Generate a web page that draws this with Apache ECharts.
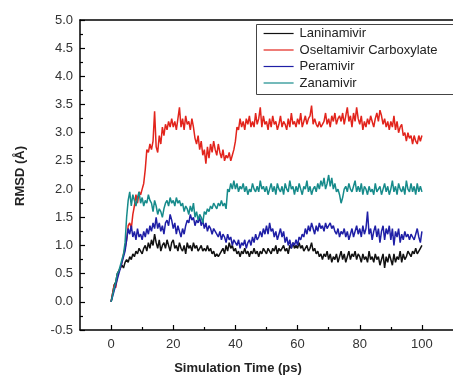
<!DOCTYPE html>
<html>
<head>
<meta charset="utf-8">
<script src="https://cdn.jsdelivr.net/npm/echarts@6/dist/echarts.min.js"></script>
<style>
  html, body { margin: 0; padding: 0; background: #fff; }
  #chart { width: 453px; height: 376px; }
</style>
</head>
<body>
<div id="chart"></div>
<script>
const timeStep = 0.5;

const laninamivir = [
  0.0, 0.15, 0.3, 0.35, 0.5, 0.55, 0.6, 0.65, 0.6, 0.7, 0.75, 0.7, 0.8, 0.75, 0.85, 0.8, 0.9, 0.85, 0.95, 0.9,
  0.85, 0.95, 1.0, 0.9, 1.05, 0.95, 1.1, 1.0, 1.2, 1.05, 0.95, 1.1, 0.9, 1.0, 1.05, 0.95, 1.1, 1.0, 0.9, 1.05,
  1.1, 0.95, 1.0, 0.9, 1.05, 0.95, 0.9, 1.0, 0.85, 1.05, 0.95, 1.0, 0.9, 1.05, 0.95, 1.0, 0.9, 0.95, 1.0, 0.9,
  0.95, 0.9, 1.0, 0.9, 0.95, 0.85, 0.9, 0.8, 0.85, 0.8, 0.85, 0.9, 0.95, 0.85, 1.0, 0.9, 1.05, 0.95, 1.0, 0.9,
  0.95, 0.85, 0.9, 0.8, 0.9, 0.85, 0.95, 0.85, 0.9, 0.8, 0.9, 0.85, 0.95, 0.85, 0.9, 0.8, 0.9, 0.85, 0.95, 0.9,
  0.85, 0.95, 0.9, 0.85, 0.95, 0.9, 1.0, 0.85, 0.95, 0.9, 0.95, 1.0, 0.9, 0.95, 0.85, 1.0, 0.95, 1.05, 0.95, 1.0,
  0.95, 1.05, 0.95, 1.0, 0.9, 0.95, 1.0, 0.9, 0.95, 1.05, 0.9, 0.95, 0.85, 0.9, 0.8, 0.85, 0.75, 0.85, 0.8, 0.9,
  0.75, 0.85, 0.7, 0.8, 0.75, 0.85, 0.7, 0.8, 0.9, 0.75, 0.85, 0.7, 0.8, 0.9, 0.75, 0.85, 0.8, 0.9, 0.75, 0.85,
  0.8, 0.7, 0.85, 0.75, 0.8, 0.7, 0.9, 0.75, 0.8, 0.7, 0.85, 0.75, 0.8, 0.65, 0.75, 0.85, 0.6, 0.8, 0.7, 0.85,
  0.75, 0.65, 0.85, 0.7, 0.8, 0.75, 0.9, 0.7, 0.85, 0.75, 0.8, 0.9, 0.85, 0.8, 0.9, 0.85, 0.95, 0.85, 0.9, 0.95,
  1.0
];

const oseltamivir = [
  0.0, 0.15, 0.3, 0.25, 0.45, 0.55, 0.6, 0.7, 0.85, 0.95, 1.1, 1.35, 1.4, 1.3, 1.55, 1.7, 1.9, 1.75, 1.95, 1.9,
  2.0, 2.1, 2.35, 2.7, 2.65, 2.8, 2.7, 2.85, 3.38, 2.75, 2.65, 2.95, 2.8, 3.1, 2.95, 3.15, 3.05, 3.2, 3.1, 3.25,
  3.1, 3.2, 3.05, 3.25, 3.45, 3.1, 3.25, 3.05, 3.3, 3.15, 3.2, 3.05, 3.25, 3.1, 2.9, 2.8, 2.95, 2.7, 2.85, 2.6,
  2.7, 2.45, 2.75, 2.55, 2.8, 2.65, 2.85, 2.7, 2.6, 2.8, 2.65, 2.55, 2.7, 2.5, 2.6, 2.55, 2.65, 2.5, 2.6, 2.7,
  2.85, 3.1, 3.05, 3.25, 3.1, 3.2, 3.05, 3.25, 3.15, 3.3, 3.1, 3.2, 3.1, 3.35, 3.15, 3.25, 3.45, 3.1, 3.3, 3.15,
  3.2, 3.05, 3.25, 3.1, 3.3, 3.15, 3.2, 3.05, 3.15, 3.3, 3.1, 3.2, 3.15, 3.05, 3.25, 3.1, 3.35, 3.15, 3.2, 3.1,
  3.25, 3.15, 3.35, 3.1, 3.2, 3.3, 3.15, 3.25, 3.3, 3.48, 3.15, 3.25, 3.15, 3.1, 3.2, 3.1, 3.15, 3.2, 3.35, 3.15,
  3.25, 3.1, 3.3, 3.2, 3.35, 3.15, 3.25, 3.3, 3.2, 3.35, 3.15, 3.3, 3.45, 3.2, 3.3, 3.1, 3.35, 3.2, 3.45, 3.25,
  3.15, 3.3, 3.05, 3.2, 3.1, 3.25, 3.15, 3.3, 3.2, 3.1, 3.25, 3.35, 3.2, 3.4, 3.3, 3.15, 3.25, 3.1, 3.2, 3.05,
  3.2, 3.1, 3.3, 3.05, 3.2, 3.0, 3.1, 3.15, 2.95, 3.0, 2.85, 3.0, 2.9, 2.95, 2.8, 2.95, 2.85, 2.8, 2.95, 2.85,
  2.95
];

const peramivir = [
  0.0, 0.1, 0.2, 0.3, 0.4, 0.5, 0.6, 0.7, 0.8, 0.9, 1.1, 1.3, 1.2, 1.35, 1.15, 1.25, 1.1, 1.3, 1.15, 1.2,
  1.1, 1.25, 1.15, 1.3, 1.2, 1.35, 1.25, 1.4, 1.3, 1.5, 1.3, 1.4, 1.25, 1.35, 1.2, 1.4, 1.45, 1.35, 1.55, 1.45,
  1.3, 1.4, 1.2, 1.35, 1.25, 1.15, 1.3, 1.2, 1.35, 1.45, 1.4, 1.55, 1.45, 1.5, 1.35, 1.45, 1.4, 1.5, 1.35, 1.45,
  1.3, 1.4, 1.25, 1.35, 1.3, 1.2, 1.3, 1.25, 1.2, 1.15, 1.25, 1.1, 1.2, 1.15, 1.05, 1.2, 1.1, 1.15, 1.0, 1.1,
  1.05, 1.0, 1.1, 0.95, 1.05, 1.0, 1.1, 0.95, 1.05, 1.1, 1.0, 1.15, 1.05, 1.2, 1.1, 1.15, 1.25, 1.15, 1.3, 1.2,
  1.35, 1.2, 1.4, 1.25, 1.3, 1.15, 1.25, 1.1, 1.2, 1.3, 1.15, 1.25, 1.05, 1.15, 1.0, 1.1, 0.95, 1.05, 1.0, 1.1,
  1.0, 1.15, 1.1, 1.2, 1.15, 1.3, 1.2, 1.35, 1.25, 1.4, 1.3, 1.2, 1.35, 1.25, 1.4, 1.3, 1.35, 1.25, 1.4, 1.3,
  1.35, 1.4, 1.3, 1.35, 1.25, 1.2, 1.3, 1.15, 1.25, 1.2, 1.3, 1.15, 1.25, 1.1, 1.2, 1.3, 1.15, 1.25, 1.35, 1.2,
  1.3, 1.15, 1.35, 1.2, 1.3, 1.6, 1.2, 1.3, 1.1, 1.25, 1.35, 1.15, 1.3, 1.05, 1.25, 1.35, 1.1, 1.3, 1.2, 1.35,
  1.1, 1.3, 1.0, 1.25, 1.15, 1.3, 1.05, 1.2, 1.1, 1.25, 1.15, 1.2, 1.1, 1.2, 1.15, 1.1, 1.2, 1.3, 1.15, 1.05,
  1.25
];

const zanamivir = [
  0.0, 0.12, 0.25, 0.35, 0.5, 0.55, 0.65, 0.75, 0.85, 1.05, 1.5, 1.8, 1.95, 1.7, 1.9, 1.8, 1.7, 1.85, 1.95, 1.75,
  1.85, 1.7, 1.8, 1.75, 1.9, 1.8, 1.75, 1.6, 1.8, 1.7, 1.55, 1.65, 1.6, 1.5, 1.65, 1.75, 1.8, 1.7, 1.85, 1.75,
  1.8, 1.7, 1.85, 1.75, 1.8, 1.7, 1.75, 1.6, 1.7, 1.65, 1.55, 1.7, 1.6, 1.75, 1.5, 1.6, 1.45, 1.55, 1.5, 1.4,
  1.6, 1.55, 1.65, 1.6, 1.7, 1.65, 1.75, 1.7, 1.65, 1.75, 1.7, 1.8, 1.7, 1.75, 1.65, 2.0, 1.95, 2.1, 2.0, 2.15,
  2.0, 2.1, 1.95, 2.05, 2.0, 2.1, 1.95, 2.05, 1.9, 2.0, 1.95, 2.1, 2.0, 1.95, 2.05, 1.95, 2.15, 2.0, 2.05, 1.95,
  2.05, 1.9, 2.0, 2.1, 1.95, 2.05, 1.9, 2.1, 2.0, 1.95, 2.05, 1.9, 2.1, 2.0, 1.95, 2.15, 2.0, 2.05, 1.9, 2.05,
  1.95, 2.1, 2.0, 1.9, 2.05, 2.0, 2.15, 1.95, 2.05, 1.9, 2.0, 2.05, 1.95, 2.1, 2.0, 2.15, 2.05, 2.2, 2.0, 2.1,
  2.25, 2.05, 2.2, 2.0, 2.1, 1.95, 2.0, 1.9, 1.75, 1.85, 2.0, 2.05, 1.95, 2.1, 2.0, 1.95, 2.05, 2.15, 1.95, 2.05,
  1.95, 2.1, 1.9, 2.05, 2.0, 1.9, 2.05, 1.95, 2.0, 1.9, 2.1, 1.95, 2.0, 2.05, 1.9, 2.0, 2.1, 1.95, 2.05, 1.9,
  2.0, 2.15, 1.95, 2.05, 1.9, 2.1, 2.0, 1.95, 2.05, 1.9, 2.15, 2.0, 1.95, 2.1, 1.95, 2.05, 1.9, 2.1, 1.95, 2.05,
  1.95
];

const seriesNames = ["Laninamivir", "Oseltamivir Carboxylate", "Peramivir", "Zanamivir"];
const seriesColors = ["#111111", "#e2241c", "#1f1fa6", "#178b8b"];
const xMajorTicks = [0, 20, 40, 60, 80, 100];
const xMinorTicks = [10, 30, 50, 70, 90];

const traces = [laninamivir, oseltamivir, peramivir, zanamivir];
const toPoints = (vals) => vals.map((v, i) => [i * timeStep, v]);

const font = "Liberation Sans, Arial, sans-serif";
const chart = echarts.init(document.getElementById("chart"));

chart.setOption({
  animation: false,
  grid: { left: 80, top: 20, bottom: 46, right: -10, containLabel: false },
  legend: {
    orient: "vertical",
    left: 256,
    top: 24,
    padding: [3, 0, 1, 7],
    itemWidth: 30,
    itemHeight: 14,
    itemGap: 3.5,
    itemStyle: { opacity: 0 },
    lineStyle: { width: 1.2 },
    textStyle: { fontSize: 13, color: "#222", fontFamily: font, padding: [0, 0, 0, 1] },
    data: seriesNames,
  },
  xAxis: [
    {
      type: "value",
      min: -10,
      max: 110,
      position: "bottom",
      axisLine: { show: true, onZero: false, lineStyle: { color: "#000", width: 1.5 } },
      axisTick: { show: true, inside: true, length: 5, customValues: xMajorTicks, lineStyle: { color: "#000", width: 1.2 } },
      axisLabel: { customValues: xMajorTicks, margin: 8, fontSize: 13, color: "#333", fontFamily: font },
      splitLine: { show: false },
    },
    {
      type: "value",
      min: -10,
      max: 110,
      position: "bottom",
      axisLine: { show: false, onZero: false },
      axisTick: { show: true, inside: true, length: 3, customValues: xMinorTicks, lineStyle: { color: "#000", width: 1.2 } },
      axisLabel: { show: false },
      splitLine: { show: false },
    },
    {
      type: "value",
      min: -10,
      max: 110,
      position: "top",
      axisLine: { show: true, onZero: false, lineStyle: { color: "#000", width: 1.5 } },
      axisTick: { show: false },
      axisLabel: { show: false },
      splitLine: { show: false },
    },
  ],
  yAxis: {
    type: "value",
    min: -0.5,
    max: 5,
    interval: 0.5,
    axisLine: { show: true, onZero: false, lineStyle: { color: "#000", width: 1.5 } },
    axisTick: { show: true, inside: true, length: 5, lineStyle: { color: "#000", width: 1.2 } },
    minorTick: { show: true, splitNumber: 2, length: 3, lineStyle: { color: "#000", width: 1.2 } },
    axisLabel: {
      margin: 7,
      fontSize: 13,
      color: "#333",
      fontFamily: font,
      formatter: (v) => v.toFixed(1),
    },
    splitLine: { show: false },
  },
  graphic: [
    {
      // legend frame, runs off the right edge like in the source figure
      type: "rect",
      shape: { x: 256.5, y: 24.5, width: 230, height: 70 },
      style: { fill: "none", stroke: "#444", lineWidth: 1 },
    },
    {
      type: "text",
      x: 20,
      y: 176,
      rotation: Math.PI / 2,
      style: { text: "RMSD (Å)", font: "bold 13px " + font, fill: "#222", align: "center", verticalAlign: "middle" },
    },
    {
      type: "text",
      x: 238,
      y: 368,
      style: { text: "Simulation Time (ps)", font: "bold 13px " + font, fill: "#222", align: "center", verticalAlign: "middle" },
    },
  ],
  series: traces.map((vals, i) => ({
    name: seriesNames[i],
    type: "line",
    xAxisIndex: 0,
    symbol: "none",
    showSymbol: false,
    color: seriesColors[i],
    lineStyle: { width: 1.5, color: seriesColors[i] },
    data: toPoints(vals),
  })),
});
</script>
</body>
</html>
